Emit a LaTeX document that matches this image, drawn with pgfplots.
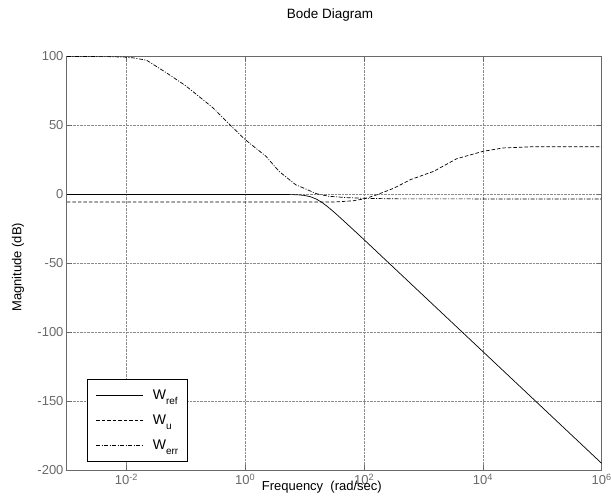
\documentclass[border=0pt]{standalone}
\usepackage{fontspec}
\setmainfont{Liberation Sans}
\usepackage{pgfplots}
\pgfplotsset{compat=1.18}
\definecolor{axgray}{RGB}{105,105,105}
\definecolor{gridgray}{RGB}{140,140,140}
\newcommand{\sub}[1]{\raisebox{-0.35em}{\fontsize{10bp}{11bp}\selectfont #1}}
\begin{document}
\begin{tikzpicture}
\useasboundingbox (-67bp,-27.7bp) rectangle (544bp,470.3bp);
\begin{axis}[
  scale only axis, width=534.7bp, height=413.8bp,
  xmode=log, xmin=1e-3, xmax=1e6, ymin=-200, ymax=100,
  xtick={1e-2,1,1e2,1e4,1e6},
  xticklabels={10\textsuperscript{-2},10\textsuperscript{0},10\textsuperscript{2},10\textsuperscript{4},10\textsuperscript{6}},
  minor x tick num=0, xminorticks=false,
  ytick={-200,-150,-100,-50,0,50,100},
  grid=major, major grid style={densely dotted, gridgray, line width=0.5bp},
  tick align=inside, major tick length=5bp,
  tick style={axgray, line width=0.6bp},
  axis line style={axgray, line width=1bp},
  ticklabel style={font=\fontsize{13bp}{15bp}\selectfont, text=axgray},
  /pgf/number format/assume math mode=true,
  every axis title shift=0pt,
  title={Bode Diagram},
  title style={at={(0.492,1.0923)}, anchor=base, inner sep=0pt, font=\fontsize{13.5bp}{15bp}\selectfont},
  xlabel={Frequency\ \ (rad/sec)},
  xlabel style={at={(0.364,-0.0493)}, anchor=base west, inner sep=0pt, font=\fontsize{13bp}{15bp}\selectfont},
  ylabel={Magnitude (dB)},
  ylabel style={at={(-0.0916,0.4906)}, anchor=center, rotate=0, inner sep=0pt, font=\fontsize{13bp}{15bp}\selectfont},
  legend cell align=left,
  legend image code/.code={\draw[#1] (0bp,0bp) -- (47bp,0bp);},
  legend style={at={(0.0368,0.0208)}, anchor=south west, draw=black, line width=0.9bp,
    inner xsep=9bp, inner ysep=10bp, row sep=14bp, column sep=9bp,
    font=\fontsize{14bp}{15bp}\selectfont,
    nodes={inner sep=0pt}},
]
\addplot[black, line width=0.7bp] coordinates {
(0.001,0) (1,0) (6.31,-0.13) (7.943,-0.32) (10,-0.76) (12.59,-1.70) (15.85,-3.43)
(19.95,-6.04) (25.12,-9.34) (31.62,-13.02) (39.81,-16.89) (63.10,-24.81) (100,-32.8)
(1e6,-195)
};
\addlegendentry{W\sub{ref}}
\addplot[black, line width=0.7bp, dash pattern=on 3.5bp off 2bp] coordinates {
(0.001,-5.5) (19.95,-5.5) (34.67,-5.4) (66.07,-4.6) (100,-3.2) (158.5,-0.5)
(316.2,4.5) (602.6,10.7) (1479,16.7) (3631,25.9) (10000,31.2) (21878,33.7)
(70795,34.6) (1e6,34.6)
};
\addlegendentry{W\sub{u}}
\addplot[black, line width=0.7bp, dash pattern=on 4bp off 1.5bp on 1bp off 1.5bp] coordinates {
(0.001,100) (0.005012,99.9) (0.01,99.5) (0.0131,99.0) (0.02188,97.3) (0.04786,88)
(0.1,78.7) (0.2884,62.7) (0.5495,50.6) (1,39.7) (2.239,27.6) (3.715,16.7)
(7.079,7) (10,4.3) (15.85,0.5) (25.12,-1.3) (50.12,-2.3) (100,-2.8) (316.2,-3.2) (1e6,-3.3)
};
\addlegendentry{W\sub{err}}
\end{axis}
\end{tikzpicture}
\end{document}
